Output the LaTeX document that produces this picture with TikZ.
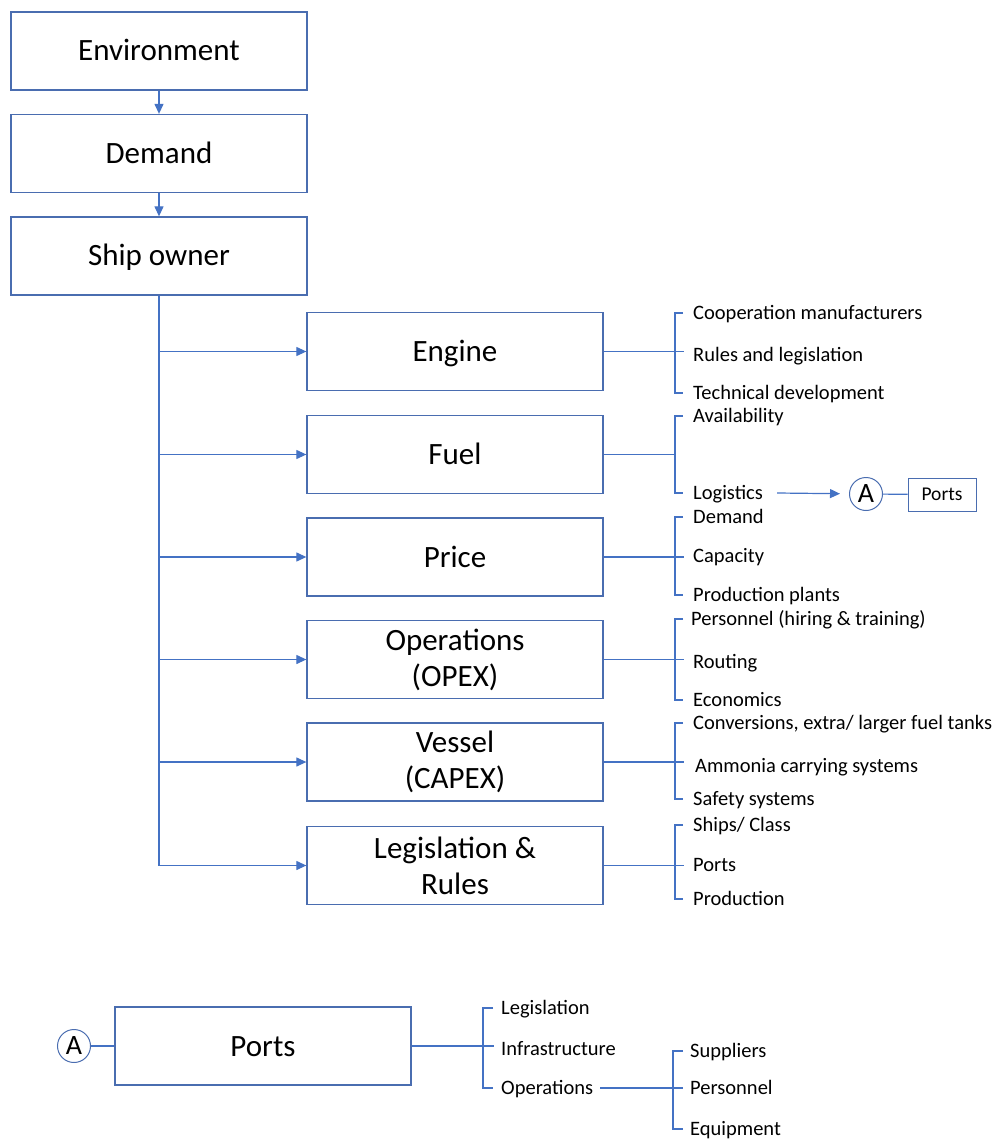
\documentclass[tikz,border=0pt]{standalone}
\usepackage{fontspec}
\setmainfont{Carlito}
\usetikzlibrary{arrows.meta,calc}
\definecolor{lnc}{HTML}{4472C4}
\definecolor{bxc}{HTML}{4A6DB0}
\begin{document}
\begin{tikzpicture}[x=1pt,y=-1pt,
  box/.style={draw=bxc, line width=1.3pt, minimum width=296pt, minimum height=78pt, font=\fontsize{31}{36}\selectfont, align=center, inner sep=0pt},
  oneline/.style={text height=24pt, text depth=4pt},
  item/.style={anchor=base west, yshift=-6.5pt, inner sep=0pt, font=\fontsize{20.5}{24}\selectfont},
  ln/.style={draw=lnc, line width=1.2pt},
  arr/.style={ln, -{Triangle[width=9pt,length=10pt]}},
  circ/.style={draw=bxc, circle, minimum size=33pt, inner sep=0pt, line width=1pt, font=\fontsize{28}{28}\selectfont},
  smallbox/.style={draw=bxc, line width=1pt, minimum width=68pt, minimum height=33pt, inner sep=0pt, font=\fontsize{19.5}{23}\selectfont}]
\useasboundingbox (0,0) rectangle (994,1139);

% main column
\node[box,oneline] (env) at (159,51) {Environment};
\node[box,oneline] (dem) at (159,153.5) {Demand};
\node[box,oneline] (own) at (159,256) {Ship owner};
\draw[arr] (env) -- (dem);
\draw[arr] (dem) -- (own);

% right boxes
\node[box,oneline] (eng) at (455,351.5) {Engine};
\node[box,oneline] (fuel) at (455,454.5) {Fuel};
\node[box,oneline] (price) at (455,557) {Price};
\node[box] (ops) at (455,659.5) {\raisebox{-2pt}{Operations}\\\raisebox{-2pt}{(OPEX)}};
\node[box] (ves) at (455,762) {\raisebox{-2pt}{Vessel}\\\raisebox{-2pt}{(CAPEX)}};
\node[box] (leg) at (455,865.5) {\raisebox{-2pt}{Legislation \&}\\\raisebox{-2pt}{Rules}};

% trunk and arrows
\draw[ln] (own.south) -- (own.south |- leg.west);
\foreach \b in {eng,fuel,price,ops,ves,leg}
  \draw[arr] (own.south |- \b.west) -- (\b.west);

% tick points are 6.5pt above the base line
% Engine items
\node[item] (e1) at (693,313) {Cooperation manufacturers};
\node[item] (e2) at (693,355) {Rules and legislation};
\node[item] (e3) at (693,393) {Technical development};
\draw[ln] ([xshift=-10pt,yshift=6.5pt]e1.base west) -- ++(-8,0) |- ([xshift=-10pt,yshift=6.5pt]e3.base west);
\draw[ln] (eng.east) -- ($(eng.east)+(80,0)$);

% Fuel items
\node[item] (f1) at (693,416) {Availability};
\node[item] (f2) at (693,493) {Logistics};
\draw[ln] ([xshift=-10pt,yshift=6.5pt]f1.base west) -- ++(-8,0) |- ([xshift=-10pt,yshift=6.5pt]f2.base west);
\draw[ln] (fuel.east) -- ($(fuel.east)+(72,0)$);
\node[circ] (A1) at (866,494) {A};
\node[smallbox] (pt) at (942,494.5) {Ports};
\draw[ln] (A1) -- (pt);
\draw[arr, shorten >=9pt] ([xshift=14pt,yshift=6.5pt]f2.base east) -- (A1);

% Price items
\node[item] (r1) at (693,517) {Demand};
\node[item] (r2) at (693,556) {Capacity};
\node[item] (r3) at (693,595) {Production plants};
\draw[ln] ([xshift=-10pt,yshift=6.5pt]r1.base west) -- ++(-8,0) |- ([xshift=-10pt,yshift=6.5pt]r3.base west);
\draw[ln] (price.east) -- ($(price.east)+(80,0)$);

% Operations items
\node[item] (o1) at (691,619) {Personnel (hiring \& training)};
\node[item] (o2) at (693,662) {Routing};
\node[item] (o3) at (693,700) {Economics};
\draw[ln] ([xshift=-8pt,yshift=6.5pt]o1.base west) -- ++(-8,0) |- ([xshift=-10pt,yshift=6.5pt]o3.base west);
\draw[ln] (ops.east) -- ($(ops.east)+(80,0)$);

% Vessel items
\node[item] (v1) at (693,723) {Conversions, extra/ larger fuel tanks};
\node[item] (v2) at (695,766) {Ammonia carrying systems};
\node[item] (v3) at (693,799) {Safety systems};
\draw[ln] ([xshift=-10pt,yshift=6.5pt]v1.base west) -- ++(-8,0) |- ([xshift=-10pt,yshift=6.5pt]v3.base west);
\draw[ln] (ves.east) -- ($(ves.east)+(80,0)$);

% Legislation items
\node[item] (l1) at (693,825) {Ships/ Class};
\node[item] (l2) at (693,865) {Ports};
\node[item] (l3) at (693,899) {Production};
\draw[ln] ([xshift=-10pt,yshift=6.5pt]l1.base west) -- ++(-8,0) |- ([xshift=-10pt,yshift=6.5pt]l3.base west);
\draw[ln] (leg.east) -- ($(leg.east)+(80,0)$);

% Bottom: Ports
\node[circ] (A2) at (74,1046) {A};
\node[box,oneline] (ports) at (263,1046) {Ports};
\draw[ln] (A2) -- (ports);
\node[item] (p1) at (501,1008) {Legislation};
\node[item] (p2) at (501,1049) {Infrastructure};
\node[item] (p3) at (501,1088) {Operations};
\draw[ln] ([xshift=-8pt,yshift=6.5pt]p1.base west) -- ++(-10,0) |- ([xshift=-8pt,yshift=6.5pt]p3.base west);
\draw[ln] (ports.east) -- ($(ports.east)+(82,0)$);

\node[item] (s1) at (690,1051) {Suppliers};
\node[item] (s2) at (690,1088) {Personnel};
\node[item] (s3) at (690,1129) {Equipment};
\draw[ln] ([xshift=-7pt,yshift=6.5pt]s1.base west) -- ++(-10,0) |- ([xshift=-7pt,yshift=6.5pt]s3.base west);
\draw[ln] ([xshift=7pt,yshift=6.5pt]p3.base east) -- ([xshift=-7pt,yshift=6.5pt]s2.base west);
\end{tikzpicture}
\end{document}
